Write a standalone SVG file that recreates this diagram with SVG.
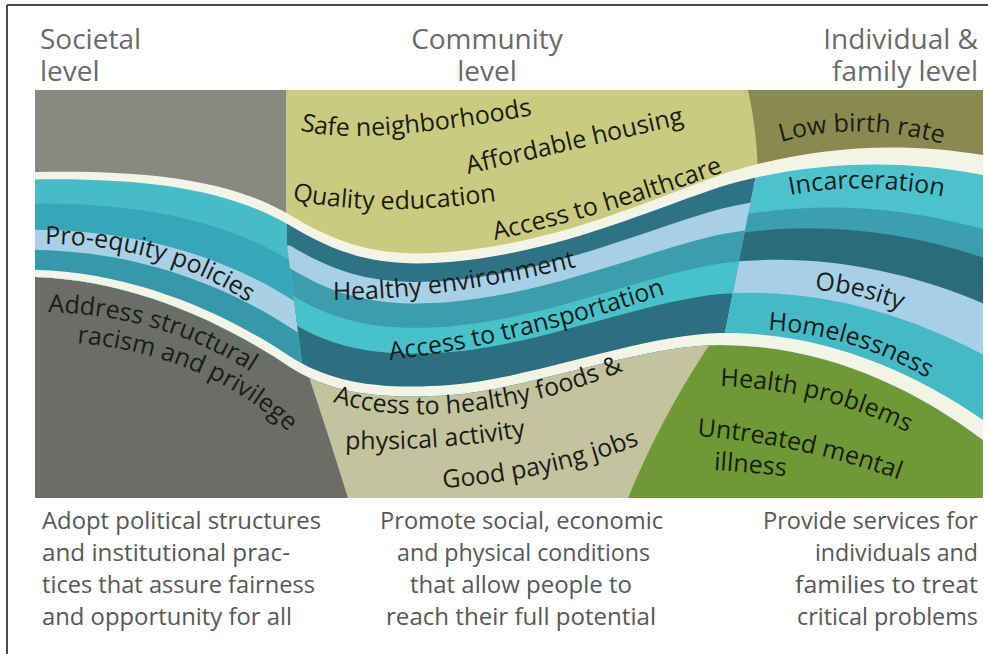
<svg xmlns="http://www.w3.org/2000/svg" xmlns:xlink="http://www.w3.org/1999/xlink" width="988" height="654" viewBox="0 0 988 654">
<style>
.hdr{font-family:"Open Sans","Liberation Sans",sans-serif;font-size:28px;fill:#6a6a6a}
.lbl{font-family:"Open Sans","Liberation Sans",sans-serif;font-size:25px;fill:#1a1c18}
.dsc{font-family:"Liberation Sans Narrow","Open Sans","Liberation Sans",sans-serif;font-size:24px;fill:#575757}
</style>
<defs>
<clipPath id="band"><path d="M35,172 C150,170 230,180 290,215 C340,245 380,258 450,252 C560,242 650,200 720,175 C790,152 880,138 983,155 L983,440 C910,385 820,345 720,345 C640,345 530,389 450,395 C380,400 330,393 290,367 C220,320 130,280 35,277 Z"/></clipPath>
<clipPath id="secL"><path d="M0,0 L287,0 L287,245 L303,370 L303,654 L0,654 Z"/></clipPath>
<clipPath id="secM"><path d="M287,0 L757,0 L757,170 L722,348 L722,654 L303,654 L303,370 L287,245 Z"/></clipPath>
<clipPath id="secR"><path d="M757,0 L988,0 L988,654 L722,654 L722,348 L757,170 Z"/></clipPath>
<path id="p-safe" d="M300,130 Q360,148 550,112"/>
<path id="p-afford" d="M468,174 L705,119"/>
<path id="p-quality" d="M292,200 Q390,220 520,197"/>
<path id="p-hc" d="M495,240 Q610,215 745,164"/>
<path id="p-pro" d="M45,244 C120,244 200,262 275,322"/>
<path id="p-addr" d="M48,312 C130,315 200,335 272,386"/>
<path id="p-racism" d="M77,343 C160,350 240,380 305,448"/>
<path id="p-henv" d="M333,300 Q450,300 595,262"/>
<path id="p-trans" d="M390,360 Q520,345 690,286"/>
<path id="p-foods" d="M333,402 C400,424 520,420 645,361"/>
<path id="p-phys" d="M345,449 Q450,452 550,432"/>
<path id="p-jobs" d="M443,488 Q560,480 665,434"/>
<path id="p-low" d="M781,142 Q865,118 960,149"/>
<path id="p-inc" d="M790,195 Q868,180 955,199"/>
<path id="p-obes" d="M815,290 Q860,292 915,316"/>
<path id="p-home" d="M768,330 Q860,335 940,386"/>
<path id="p-health" d="M720,386 Q830,390 922,440"/>
<path id="p-untr" d="M697,436 Q810,445 916,486"/>
<path id="p-ill" d="M714,470 Q750,472 800,478"/>
</defs>
<rect width="988" height="654" fill="#ffffff"/>
<g id="frame" stroke="#4a4a4a" stroke-width="2" fill="none">
<line x1="7" y1="5" x2="988" y2="5"/>
<line x1="7" y1="5" x2="7" y2="654"/>
</g>
<g id="backgrounds">
<rect x="35" y="90" width="260" height="408" fill="#878a81"/>
<rect x="700" y="90" width="283" height="200" fill="#8a8a50"/>
<path d="M286,90 L748,90 Q756,125 758,170 L758,280 L286,280 Z" fill="#cacb7f"/>
<rect x="600" y="280" width="383" height="218" fill="#6e9935"/>
<path d="M290,300 L740,300 L706,350 Q660,420 628,498 L330,498 Z" fill="#c3c49d"/>
<path d="M35,240 L200,260 L300,340 L310,380 Q330,440 348,498 L35,498 Z" fill="#6b6d67"/>
</g>
<g id="band-ribbon" clip-path="url(#band)">
<rect x="30" y="120" width="960" height="340" fill="#f4f4e6"/>
<g id="band-left" clip-path="url(#secL)">
<path fill="#46bccb" d="M35,179.4 C148.6,177.7 229.3,189.8 290,225.6 C339.3,255.4 380,267.9 450,262 L990,262 L990,660 L20,660 L20,179.4 Z"/>
<path fill="#36a6b8" d="M35,203.5 C144,203 227,222 290,260.6 C337,289.4 380,300.6 450,294.9 L990,294.9 L990,660 L20,660 L20,203.5 Z"/>
<path fill="#a8d1e6" d="M35,229.8 C139,230.5 224.5,257 290,298.6 C334.5,326.4 380,336.1 450,330.7 L990,330.7 L990,660 L20,660 L20,229.8 Z"/>
<path fill="#3599ab" d="M35,249.7 C135.2,251.4 222.6,283.6 290,327.5 C332.6,354.5 380,363.1 450,357.8 L990,357.8 L990,660 L20,660 L20,249.7 Z"/>
</g>
<g id="band-middle" clip-path="url(#secM)">
<path fill="#2d7385" d="M35,179.4 C148.6,177.7 229.3,189.8 290,225.6 C339.3,255.4 380,267.9 450,262 C557.9,252.3 649.3,210.2 720,186.9 C792.1,165.5 882.1,155.3 983,175 L990,175 L990,660 L20,660 Z"/>
<path fill="#a7cfe6" d="M250,245.4 L290,245.4 C338,274.6 380,286.4 450,280.6 C554,271.4 648,229 720,209 C796,190.6 886,187.4 983,212 L990,212 L990,660 L250,660 Z"/>
<path fill="#3c9dad" d="M250,268.2 L290,268.2 C336.5,296.8 380,307.7 450,302 C549.5,293.5 646.5,250.8 720,234.5 C800.5,219.6 890.5,224.5 983,254.8 L990,254.8 L990,660 L250,660 Z"/>
<path fill="#48c2ca" d="M250,294 L290,294 C334.8,322 380,331.8 450,326.4 C544.4,318.4 644.8,275.4 720,263.4 C805.6,252.4 895.6,266.4 983,303.2 L990,303.2 L990,660 L250,660 Z"/>
<path fill="#2c6f80" d="M250,321.4 L290,321.4 C333,348.6 380,357.4 450,352.1 C539,344.9 643,301.5 720,294 C811,287.1 901,310.9 983,354.5 L990,354.5 L990,660 L250,660 Z"/>
</g>
<g id="band-right" clip-path="url(#secR)">
<path fill="#4ac3cd" d="M35,179.4 C148.6,177.7 229.3,189.8 290,225.6 C339.3,255.4 380,267.9 450,262 C557.9,252.3 649.3,210.2 720,186.9 C792.1,165.5 882.1,155.3 983,175 L990,175 L990,660 L20,660 Z"/>
<path fill="#3b9fb0" d="M450,289.2 C552.2,280.2 647.4,237.7 720,219.2 C797.8,202.2 887.8,202.2 983,229.1 L990,229.1 L990,660 L450,660 Z"/>
<path fill="#2b6c7c" d="M450,303.5 C549.2,294.9 646.4,252.2 720,236.2 C800.8,221.5 890.8,226.9 983,257.6 L990,257.6 L990,660 L450,660 Z"/>
<path fill="#a8cfe8" d="M250,294 L290,294 C334.8,322 380,331.8 450,326.4 C544.4,318.4 644.8,275.4 720,263.4 C805.6,252.4 895.6,266.4 983,303.2 L990,303.2 L990,660 L250,660 Z"/>
<path fill="#44bac6" d="M250,321.4 L290,321.4 C333,348.6 380,357.4 450,352.1 C539,344.9 643,301.5 720,294 C811,287.1 901,310.9 983,354.5 L990,354.5 L990,660 L250,660 Z"/>
</g>
<path fill="#f4f4e6" d="M35,269.7 C131.4,272.3 220.7,310.2 290,356.4 C330.7,382.6 380,390.1 450,385 C532.1,378.7 640.7,334.9 720,333.1 C817.9,331.5 907.9,367.7 983,420 L990,420 L990,660 L20,660 L20,269.7 Z"/>
</g>
<g id="headers">
<text class="hdr" x="40" y="49">Societal</text>
<text class="hdr" x="40" y="81">level</text>
<text class="hdr" x="487" y="49" text-anchor="middle">Community</text>
<text class="hdr" x="487" y="81" text-anchor="middle">level</text>
<text class="hdr" x="978" y="49" text-anchor="end">Individual &amp;</text>
<text class="hdr" x="978" y="81" text-anchor="end">family level</text>
</g>
<g id="labels-societal">
<text class="lbl"><textPath href="#p-pro" xlink:href="#p-pro">Pro-equity policies</textPath></text>
<text class="lbl"><textPath href="#p-addr" xlink:href="#p-addr">Address structural</textPath></text>
<text class="lbl"><textPath href="#p-racism" xlink:href="#p-racism">racism and privilege</textPath></text>
</g>
<g id="labels-community">
<text class="lbl"><textPath href="#p-safe" xlink:href="#p-safe">Safe neighborhoods</textPath></text>
<text class="lbl"><textPath href="#p-afford" xlink:href="#p-afford">Affordable housing</textPath></text>
<text class="lbl"><textPath href="#p-quality" xlink:href="#p-quality">Quality education</textPath></text>
<text class="lbl"><textPath href="#p-hc" xlink:href="#p-hc">Access to healthcare</textPath></text>
<text class="lbl"><textPath href="#p-henv" xlink:href="#p-henv">Healthy environment</textPath></text>
<text class="lbl"><textPath href="#p-trans" xlink:href="#p-trans">Access to transportation</textPath></text>
<text class="lbl"><textPath href="#p-foods" xlink:href="#p-foods">Access to healthy foods &amp;</textPath></text>
<text class="lbl"><textPath href="#p-phys" xlink:href="#p-phys">physical activity</textPath></text>
<text class="lbl"><textPath href="#p-jobs" xlink:href="#p-jobs">Good paying jobs</textPath></text>
</g>
<g id="labels-individual">
<text class="lbl"><textPath href="#p-low" xlink:href="#p-low">Low birth rate</textPath></text>
<text class="lbl"><textPath href="#p-inc" xlink:href="#p-inc">Incarceration</textPath></text>
<text class="lbl"><textPath href="#p-obes" xlink:href="#p-obes">Obesity</textPath></text>
<text class="lbl"><textPath href="#p-home" xlink:href="#p-home">Homelessness</textPath></text>
<text class="lbl"><textPath href="#p-health" xlink:href="#p-health">Health problems</textPath></text>
<text class="lbl"><textPath href="#p-untr" xlink:href="#p-untr">Untreated mental</textPath></text>
<text class="lbl"><textPath href="#p-ill" xlink:href="#p-ill">illness</textPath></text>
</g>
<g id="descriptions">
<text class="dsc" x="42" y="529" textLength="279" lengthAdjust="spacingAndGlyphs">Adopt political structures</text>
<text class="dsc" x="42" y="561" textLength="248" lengthAdjust="spacingAndGlyphs">and institutional prac-</text>
<text class="dsc" x="42" y="593" textLength="273" lengthAdjust="spacingAndGlyphs">tices that assure fairness</text>
<text class="dsc" x="42" y="625" textLength="250" lengthAdjust="spacingAndGlyphs">and opportunity for all</text>
<text class="dsc" x="380" y="529" textLength="283" lengthAdjust="spacingAndGlyphs">Promote social, economic</text>
<text class="dsc" x="397" y="561" textLength="253" lengthAdjust="spacingAndGlyphs">and physical conditions</text>
<text class="dsc" x="410" y="593" textLength="222" lengthAdjust="spacingAndGlyphs">that allow people to</text>
<text class="dsc" x="386" y="625" textLength="270" lengthAdjust="spacingAndGlyphs">reach their full potential</text>
<text class="dsc" x="763" y="529" textLength="215" lengthAdjust="spacingAndGlyphs">Provide services for</text>
<text class="dsc" x="815" y="561" textLength="163" lengthAdjust="spacingAndGlyphs">individuals and</text>
<text class="dsc" x="795" y="593" textLength="183" lengthAdjust="spacingAndGlyphs">families to treat</text>
<text class="dsc" x="797" y="625" textLength="181" lengthAdjust="spacingAndGlyphs">critical problems</text>
</g>
</svg>
